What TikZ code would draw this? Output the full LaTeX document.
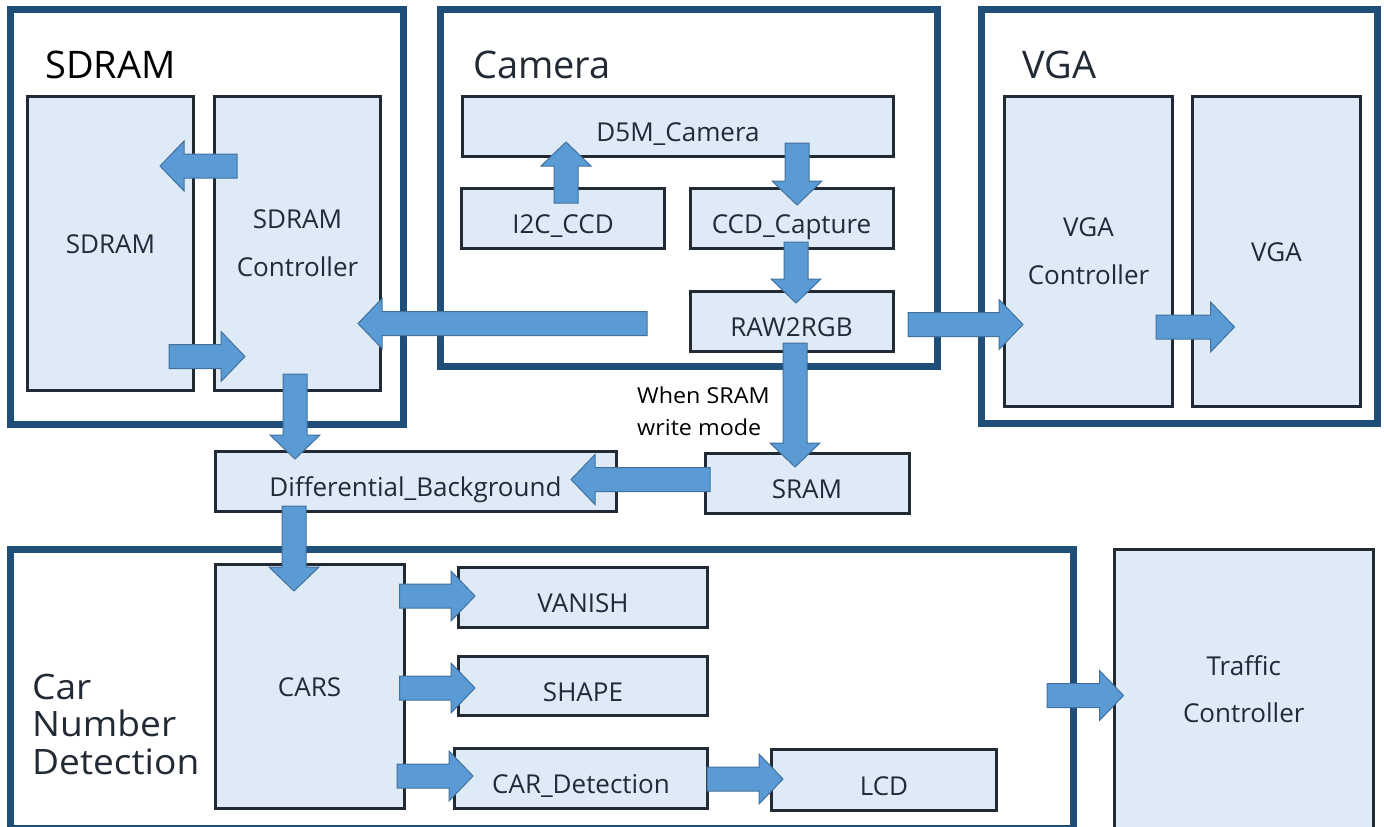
\documentclass[tikz,border=0pt]{standalone}
\usepackage{fontspec}
\setmainfont{Open Sans}
\newfontfamily\widesans[FakeStretch=1.06]{Open Sans}
\usetikzlibrary{calc}
\definecolor{outerblue}{HTML}{1F4E79}
\definecolor{boxfill}{HTML}{DEEAF6}
\definecolor{boxedge}{HTML}{222A35}
\definecolor{arrfill}{HTML}{5B9BD5}
\definecolor{arredge}{HTML}{41719C}
\definecolor{txt}{HTML}{222A35}
\def\ash{12pt}
\def\ahw{25pt}
\def\ahl{24pt}
\newcommand{\blockarr}[2]{%
  \path ($(#2)!\ahl!(#1)$) coordinate (bh);
  \draw[barrow] ($(#1)!\ash!90:(#2)$) -- ($(bh)!\ash!90:(#2)$) -- ($(bh)!\ahw!90:(#2)$) -- (#2)
    -- ($(bh)!\ahw!-90:(#2)$) -- ($(bh)!\ash!-90:(#2)$) -- ($(#1)!\ash!-90:(#2)$) -- cycle;
}
\tikzset{
  outerbox/.style={draw=outerblue, line width=7pt, inner sep=0pt},
  blk/.style={draw=boxedge, fill=boxfill, line width=3pt, inner sep=0pt, text=txt,
    font=\fontsize{26}{48}\selectfont, align=center},
  shortbox/.style={blk, text height=30pt, text depth=0pt},
  tallbox/.style={blk, text height=20pt, text depth=0pt},
  grouptitle/.style={font=\fontsize{38}{40}\selectfont, text=txt, inner sep=0pt, anchor=base west},
  barrow/.style={fill=arrfill, draw=arredge, line width=1pt, line join=miter},
}
\begin{document}
\begin{tikzpicture}[x=1pt,y=-1pt]
\useasboundingbox (0,0) rectangle (1384,827);
\fill[white] (0,0) rectangle (1384,827);
\clip (0,0) rectangle (1384,827);

% group frames
\node[outerbox, minimum width=393pt, minimum height=415pt] (sdramgrp) at (207,217) {};
\node[outerbox, minimum width=497pt, minimum height=357pt] (cameragrp) at (689,188) {};
\node[outerbox, minimum width=396pt, minimum height=414pt] (vgagrp) at (1179.5,216.5) {};
\node[outerbox, minimum width=1062.5pt, minimum height=278.5pt] (cargrp) at (541.75,688.75) {};

% group titles
\node[grouptitle, text=black] (tsdram) at (45,78) {SDRAM};
\node[grouptitle] (tcamera) at (473,78) {Camera};
\node[grouptitle] (tvga) at (1022,78) {VGA};
\node[font=\widesans\fontsize{35}{37.5}\selectfont, text=txt, inner sep=0pt, anchor=west, align=left] (tcar) at (32,724) {Car\\Number\\Detection};

% blocks
\node[tallbox, minimum width=166pt, minimum height=294pt] (sdram) at (110.5,243.5) {SDRAM};
\node[blk, minimum width=166pt, minimum height=294pt] (sdctrl) at (297.5,243.5) {SDRAM\\Controller};
\node[shortbox, minimum width=431pt, minimum height=60pt] (d5m) at (678,126.5) {D5M\_Camera};
\node[shortbox, minimum width=203.5pt, minimum height=60pt] (i2c) at (563,218.5) {I2C\_CCD};
\node[shortbox, minimum width=203pt, minimum height=60pt] (ccd) at (791.5,218.5) {CCD\_Capture};
\node[shortbox, minimum width=203pt, minimum height=60pt] (raw) at (791.5,321.5) {RAW2RGB};
\node[shortbox, minimum width=204pt, minimum height=60pt] (sram) at (807,483.5) {SRAM};
\node[blk, minimum width=168pt, minimum height=310pt] (vgac) at (1088.5,251.5) {VGA\\Controller};
\node[tallbox, minimum width=168pt, minimum height=310pt] (vga) at (1276.5,251.5) {VGA};
\node[shortbox, minimum width=401pt, minimum height=60pt] (diff) at (415.5,481.5) {Differential\_Background};
\node[tallbox, minimum width=189pt, minimum height=244pt] (cars) at (309.5,686.5) {CARS};
\node[shortbox, minimum width=249pt, minimum height=60pt] (vanish) at (583,597.5) {VANISH};
\node[shortbox, minimum width=249pt, minimum height=59pt] (shape) at (583,686) {SHAPE};
\node[shortbox, minimum width=252.5pt, minimum height=60pt] (card) at (581,778.5) {CAR\_Detection};
\node[shortbox, minimum width=225pt, minimum height=61pt] (lcd) at (884,780) {LCD};
\node[blk, minimum width=258.5pt, minimum height=280pt, font=\fontsize{26}{47}\selectfont] (traffic) at (1243.75,689.5) {Traffic\\Controller};

% label
\node[font=\widesans\fontsize{22}{32}\selectfont, text=black, inner sep=0pt, anchor=west, align=left] (wlabel) at (637,411) {When SRAM\\write mode};

% arrow end points
\coordinate (a1s) at (237,166);    \coordinate (a1e) at (160,166);
\coordinate (a2s) at (169,356.5);  \coordinate (a2e) at (245,356.5);
\coordinate (a3s) at (647,323.5);  \coordinate (a3e) at (358,323.5);
\coordinate (a4s) at (295,374);    \coordinate (a4e) at (295,459);
\coordinate (a5s) at (710,479.5);  \coordinate (a5e) at (571,479.5);
\coordinate (a6s) at (294,506);    \coordinate (a6e) at (294,591);
\coordinate (a7s) at (399.5,596);  \coordinate (a7e) at (475,596);
\coordinate (a8s) at (399.5,688);  \coordinate (a8e) at (475,688);
\coordinate (a9s) at (397,776);    \coordinate (a9e) at (473,776);
\coordinate (a10s) at (707,779);   \coordinate (a10e) at (783,779);
\coordinate (a11s) at (1047,695.5);\coordinate (a11e) at (1123.5,695.5);
\coordinate (a12s) at (566,203);   \coordinate (a12e) at (566,142);
\coordinate (a13s) at (797,143);   \coordinate (a13e) at (797,205);
\coordinate (a14s) at (796,242);   \coordinate (a14e) at (796,303);
\coordinate (a15s) at (795,343);   \coordinate (a15e) at (795,467);
\coordinate (a16s) at (908,324.5); \coordinate (a16e) at (1023,324.5);
\coordinate (a17s) at (1156,327);  \coordinate (a17e) at (1234.5,327);

% block arrows
\blockarr{a1s}{a1e}
\blockarr{a2s}{a2e}
\blockarr{a3s}{a3e}
\blockarr{a4s}{a4e}
\blockarr{a5s}{a5e}
\blockarr{a6s}{a6e}
\blockarr{a7s}{a7e}
\blockarr{a8s}{a8e}
\blockarr{a9s}{a9e}
\blockarr{a10s}{a10e}
\blockarr{a11s}{a11e}
\blockarr{a12s}{a12e}
\blockarr{a13s}{a13e}
\blockarr{a14s}{a14e}
\blockarr{a15s}{a15e}
\blockarr{a16s}{a16e}
\blockarr{a17s}{a17e}
\end{tikzpicture}
\end{document}
